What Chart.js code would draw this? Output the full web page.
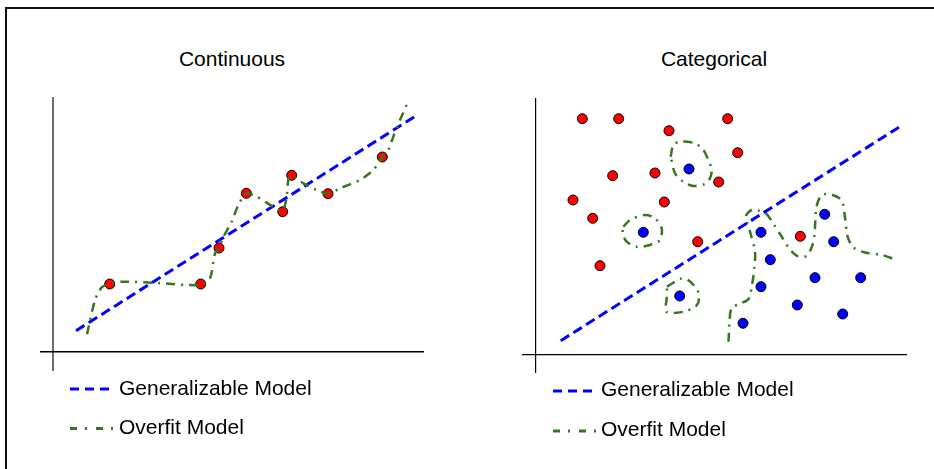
<!DOCTYPE html>
<html>
<head>
<meta charset="utf-8">
<script src="https://cdn.jsdelivr.net/npm/chart.js@4/dist/chart.umd.min.js"></script>
<style>
  html, body { margin: 0; padding: 0; background: #fff; }
  body { width: 934px; height: 469px; position: relative; overflow: hidden;
         font-family: "Liberation Sans", Arial, sans-serif; color: #000; }
  .frame { position: absolute; left: 5px; top: 7px; width: 940px; height: 480px;
           border-top: 2px solid #111; border-left: 2px solid #111; }
  .txt { position: absolute; font-size: 21px; line-height: 21px; white-space: nowrap; }
  .title { transform: translateX(-50%); }
  canvas { position: absolute; }
  svg { position: absolute; left: 0; top: 0; }
</style>
</head>
<body>
<div class="frame"></div>

<div class="txt title" id="t1" style="left:232px; top:48px;">Continuous</div>
<div class="txt title" id="t2" style="left:714px; top:48px;">Categorical</div>

<canvas id="c1" width="384" height="274" style="left:40px; top:97px;"></canvas>
<canvas id="c2" width="385" height="275" style="left:522px; top:98px;"></canvas>

<svg width="934" height="469">
  <line x1="70" y1="389" x2="111" y2="389" stroke="#0000ff" stroke-width="3" stroke-dasharray="9 6"/>
  <line x1="70" y1="428.5" x2="113" y2="428.5" stroke="#38761d" stroke-width="3" stroke-dasharray="7 8 2 9"/>
  <line x1="553" y1="391" x2="594" y2="391" stroke="#0000ff" stroke-width="3" stroke-dasharray="9 6"/>
  <line x1="553" y1="431" x2="596" y2="431" stroke="#38761d" stroke-width="3" stroke-dasharray="7 8 2 9"/>
</svg>

<div class="txt" style="left:119px; top:376.5px;">Generalizable Model</div>
<div class="txt" style="left:119px; top:416px;">Overfit Model</div>
<div class="txt" style="left:601px; top:378px;">Generalizable Model</div>
<div class="txt" style="left:601px; top:418px;">Overfit Model</div>

<script>
// ---------------- Data (abstract units, origin at the axes crossing) ----------------
// Continuous panel
const contSeriesLabels = ["Generalizable Model", "Overfit Model"];
const contPoints = [[5.67,6.8],[14.77,6.8],[16.6,10.4],[19.33,15.87],[22.97,14.03],[23.87,17.67],[27.5,15.83],[32.93,19.5]];
const contGeneral = [[2.3,2.13],[36.27,23.6]];
const contOverfit = [[3.4,1.77],[4.2,5.2],[4.87,6.47],[5.67,6.8],[6.87,7.03],[10.03,6.93],[14.77,6.7],[15.7,7.37],
  [16.2,9.87],[16.6,10.4],[16.97,11.37],[17.87,13.03],[18.53,14.7],[19.33,15.87],[20.37,15.53],[22.03,14.53],
  [22.97,14.1],[23.37,15.53],[23.53,17.2],[23.87,17.67],[25.03,16.87],[26.37,16.2],[27.5,15.83],[28.7,16.37],
  [30.7,17.2],[32.03,18.2],[32.93,19.5],[33.53,20.2],[34.03,21.53],[34.7,23.2],[35.37,24.7]];

// Categorical panel
const catRed = [[4.63,23.63],[8.27,23.63],[19.17,23.63],[13.3,22.43],[20.17,20.23],[7.67,17.93],[11.9,18.2],
  [18.27,17.3],[3.7,15.5],[12.83,15.3],[5.67,13.67],[16.17,11.33],[6.4,8.93],[26.43,11.87]];
const catBlue = [[15.3,18.6],[10.73,12.27],[14.37,5.9],[22.5,12.27],[23.43,9.53],[22.5,6.83],[28.87,14.07],
  [29.77,11.33],[27.9,7.73],[32.47,7.73],[26.13,5.0],[30.67,4.1],[20.7,3.17]];
const catGeneral = [[2.47,1.43],[36.5,22.9]];
const catLoopA = [[13.47,19.83],[13.73,21.0],[14.4,21.33],[15.9,21.17],[16.73,20.5],[17.23,19.5],[17.57,18.5],
  [17.4,17.67],[16.9,17.1],[15.73,16.9],[14.73,17.33],[13.9,18.17],[13.47,19.83]];
const catLoopB = [[8.73,12.83],[9.4,13.5],[10.9,14.0],[11.9,13.67],[12.57,12.67],[12.4,11.5],[11.4,11.0],
  [10.07,10.83],[9.07,11.33],[8.67,12.17],[8.73,12.83]];
const catLoopC = [[13.1,6.83],[14.6,7.67],[15.43,7.33],[16.27,6.17],[16.1,5.0],[14.77,4.33],[13.03,4.33],
  [13.07,5.67],[13.1,6.83]];
const catBoundary = [[19.25,1.33],[19.35,3.17],[19.55,4.67],[20.35,5.12],[21.25,5.6],[21.6,7.0],[21.85,8.83],
  [21.9,10.35],[21.4,12.35],[21.0,13.9],[21.55,14.5],[22.23,14.45],[23.05,14.1],[23.75,13.1],[24.58,11.83],
  [25.25,10.75],[26.1,9.92],[27.08,9.9],[27.58,10.83],[27.83,11.83],[27.92,13.17],[28.05,14.83],[28.58,16.0],
  [29.58,16.03],[30.58,15.42],[30.91,13.67],[31.16,11.83],[31.75,10.75],[32.9,10.25],[34.6,10.0],[36.1,9.47]];

// ---------------- Styling & helpers ----------------
const BLUE = '#0000ff', GREEN = '#38761d', RED = '#ff0000';
const xy = arr => arr.map(p => ({x: p[0], y: p[1]}));

function pointSet(data, color) {
  return { data: xy(data), showLine: false, pointRadius: 5, pointHoverRadius: 5,
           backgroundColor: color, borderColor: '#000', pointBorderWidth: 1, borderWidth: 1, order: 2, clip: false };
}
function lineSet(label, data, color, dash, width, tension) {
  return { label, data: xy(data), showLine: true, pointRadius: 0, borderColor: color, borderWidth: width,
           borderDash: dash, borderCapStyle: 'butt', tension: tension, fill: false, order: 1, clip: false };
}
function axisScale(min, max, color, width) {
  return {
    type: 'linear', min, max,
    afterBuildTicks: s => { s.ticks = [{value: 0}]; },
    ticks: { display: false },
    border: { display: false },
    grid: { drawTicks: false, color, lineWidth: width, drawOnChartArea: true }
  };
}
function baseOptions(xr, yr, xAxisColor, xAxisW, yAxisColor, yAxisW) {
  return {
    responsive: false, animation: false, events: [],
    layout: { padding: 0, autoPadding: false },
    plugins: { legend: { display: false }, tooltip: { enabled: false }, title: { display: false } },
    scales: {
      x: axisScale(xr[0], xr[1], yAxisColor, yAxisW),   // vertical line at x = 0 (y axis)
      y: axisScale(yr[0], yr[1], xAxisColor, xAxisW)    // horizontal line at y = 0 (x axis)
    }
  };
}

// ---------------- Continuous chart ----------------
const g1 = lineSet(contSeriesLabels[0], contGeneral, BLUE, [10, 5], 3, 0);
const o1 = lineSet(contSeriesLabels[1], contOverfit, GREEN, [9, 6, 2, 6], 2.5, 0.25);
o1.order = 0;
new Chart(document.getElementById('c1'), {
  type: 'scatter',
  data: { datasets: [o1, g1, pointSet(contPoints, RED)] },
  options: baseOptions([-1.3, 37.1], [-1.9, 25.5], '#000', 1.5, '#6e6e6e', 2)
});

// ---------------- Categorical chart ----------------
const greenCurves = [catLoopA, catLoopB, catLoopC, catBoundary].map(d =>
  lineSet(contSeriesLabels[1], d, GREEN, [9, 6, 2, 6], 2.5, 0.3));
new Chart(document.getElementById('c2'), {
  type: 'scatter',
  data: { datasets: [
    lineSet(contSeriesLabels[0], catGeneral, BLUE, [10, 5], 3, 0),
    ...greenCurves,
    Object.assign(pointSet(catRed, RED), {order: 0}),
    Object.assign(pointSet(catBlue, BLUE), {order: 0})
  ] },
  options: baseOptions([-1.4, 37.1], [-1.8, 25.7], '#000', 1.2, '#000', 1.2)
});
</script>
</body>
</html>
